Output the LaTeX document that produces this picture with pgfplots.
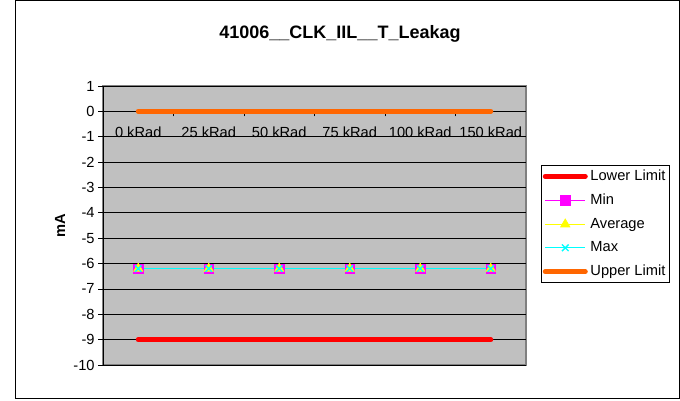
\documentclass[border=0pt]{standalone}
\usepackage{fontspec}
\setmainfont{Liberation Sans}
\usepackage{pgfplots}
\pgfplotsset{compat=1.18}
\definecolor{plotgray}{RGB}{192,192,192}
\definecolor{framegray}{RGB}{128,128,128}
\definecolor{upperc}{RGB}{255,102,0}
\definecolor{lowerc}{RGB}{255,0,0}
\definecolor{minc}{RGB}{255,0,255}
\definecolor{avgc}{RGB}{255,255,0}
\definecolor{maxc}{RGB}{0,255,255}
\begin{document}
\begin{tikzpicture}
\useasboundingbox (0,0) rectangle (510pt,300pt);
\draw[black, line width=0.75pt] (11.25pt,1.5pt) rectangle (509.25pt,299.25pt);
\node[font=\bfseries\fontsize{13.5}{16}\selectfont] at (255pt,274.5pt) {41006\_\_CLK\_IIL\_\_T\_Leakag};
\begin{axis}[at={(77.25pt,26.25pt)}, anchor=south west, scale only axis,
  width=317.25pt, height=209.25pt,
  xmin=-0.5, xmax=5.5, ymin=-10, ymax=1,
  axis x line=middle, axis y line=left,
  axis line style={-, black, line width=0.75pt},
  axis background/.style={fill=plotgray, draw=framegray, line width=1.2pt},
  xtick={0.5,1.5,2.5,3.5,4.5}, xticklabels={},
  extra x ticks={0,1,2,3,4,5},
  extra x tick labels={0 kRad,25 kRad,50 kRad,75 kRad,100 kRad,150 kRad},
  extra x tick style={major tick length=0pt, grid=none, xticklabel style={yshift=-8pt}},
  ytick={-10,-9,-8,-7,-6,-5,-4,-3,-2,-1,0,1},
  yticklabels={-10,-9,-8,-7,-6,-5,-4,-3,-2,-1,0,1},
  tick align=outside, major tick length=3.75pt,
  tick style={black, line width=0.6pt},
  ymajorgrids, major grid style={black, line width=0.6pt},
  tick label style={font=\fontsize{11}{13}\selectfont},
  yticklabel style={xshift=1pt},
  ylabel={mA},
  ylabel style={font=\bfseries\fontsize{11}{13}\selectfont, at={(axis description cs:-0.1017,0.5)}, anchor=center},
  legend style={at={(axis description cs:1.0355,0.717)}, anchor=north west,
    font=\fontsize{11}{13}\selectfont, draw=black, line width=0.6pt, fill=white,
    row sep=4.6pt, inner xsep=1pt, inner ysep=1.5pt},
  legend cell align=left,
  legend image code/.code={\draw[mark repeat=2,mark phase=2] plot coordinates {(0pt,0pt) (15pt,0pt) (30pt,0pt)};},
  clip=false,
]
\addplot[lowerc, line width=3.75pt, line cap=round] coordinates {(0,-9) (1,-9) (2,-9) (3,-9) (4,-9) (5,-9)};
\addlegendentry{Lower Limit}
\addplot[minc, line width=0.9pt, mark=square*, mark size=3.5pt, mark options={fill=minc, line width=0.5pt}] coordinates {(0,-6.2) (1,-6.2) (2,-6.2) (3,-6.2) (4,-6.2) (5,-6.2)};
\addlegendentry{Min}
\addplot[avgc, line width=0.9pt, mark=triangle*, mark size=4pt, mark options={fill=avgc, line width=0.5pt}] coordinates {(0,-6.2) (1,-6.2) (2,-6.2) (3,-6.2) (4,-6.2) (5,-6.2)};
\addlegendentry{Average}
\addplot[maxc, line width=1pt, mark=x, mark size=3.5pt, mark options={line width=1pt}] coordinates {(0,-6.2) (1,-6.2) (2,-6.2) (3,-6.2) (4,-6.2) (5,-6.2)};
\addlegendentry{Max}
\addplot[upperc, line width=3.75pt, line cap=round] coordinates {(0,0) (1,0) (2,0) (3,0) (4,0) (5,0)};
\addlegendentry{Upper Limit}
\end{axis}
\end{tikzpicture}
\end{document}
